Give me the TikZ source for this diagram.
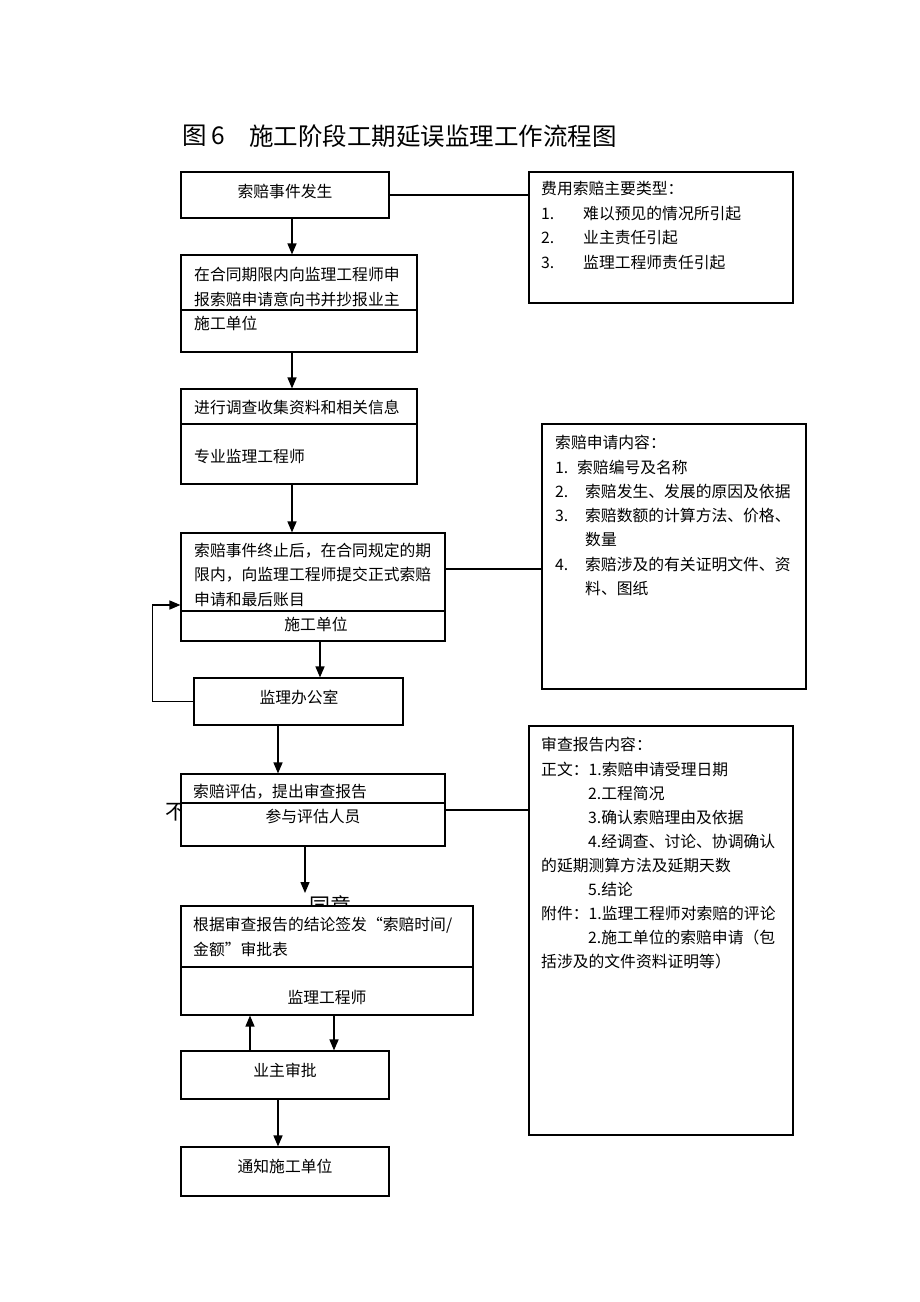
\documentclass[tikz,border=0pt]{standalone}
\usepackage{fontspec}
\setmainfont{Noto Sans CJK SC}
\usetikzlibrary{arrows.meta,calc}
\tikzset{
  box/.style={draw=black, line width=1.1pt, fill=white, rectangle, inner sep=0pt},
  txt/.style={inner sep=0pt, anchor=west, font=\fontsize{15.8}{18}\selectfont},
  ctxt/.style={inner sep=0pt, anchor=center, font=\fontsize{15.8}{18}\selectfont},
  arr/.style={line width=1.4pt, -{Triangle[length=11pt,width=9pt]}},
  link/.style={line width=1.1pt},
  divider/.style={line width=1.1pt},
  cut/.style={inner sep=0pt, anchor=center, font=\fontsize{21}{24}\selectfont},
  ttl/.style={inner sep=0pt, anchor=west, font=\fontsize{24.5}{28}\selectfont}
}
\newcommand{\numitem}[2]{\makebox[#1][l]{#2}}
\begin{document}
\begin{tikzpicture}[x=1pt,y=-1pt]
\useasboundingbox[fill=white] (0,0) rectangle (920,1302);

% title
\node[ttl] (t1) at (182,136) {图};
\node[ttl] (t1b) at (211,136) {6};
\node[ttl] (t2) at (249,136) {施工阶段工期延误监理工作流程图};

% partly hidden labels (drawn below the boxes)
\node[cut] (bu) at (176,812) {不};
\node[cut] (ty) at (330,905) {同意};

% left column boxes
\node[box, minimum width=208pt, minimum height=46pt] (b1) at (285,195) {};
\node[box, minimum width=236pt, minimum height=97pt] (b2) at (299,303.5) {};
\node[box, minimum width=236pt, minimum height=95pt] (b3) at (299,436.5) {};
\node[box, minimum width=264pt, minimum height=108pt] (b4) at (313,587) {};
\node[box, minimum width=209pt, minimum height=47pt] (b5) at (298.5,701.5) {};
\node[box, minimum width=264pt, minimum height=72pt] (b6) at (313,810) {};
\node[box, minimum width=292pt, minimum height=109pt] (b7) at (327,960.5) {};
\node[box, minimum width=208pt, minimum height=48pt] (b8) at (285,1075) {};
\node[box, minimum width=208pt, minimum height=49pt] (b9) at (285,1171.5) {};

% right column boxes
\node[box, minimum width=264pt, minimum height=131pt] (r1) at (661,237.5) {};
\node[box, minimum width=264pt, minimum height=265pt] (r2) at (674,556.5) {};
\node[box, minimum width=264pt, minimum height=409pt] (r3) at (661,930.5) {};

% dividers
\draw[divider] (181,310) -- (417,310);
\draw[divider] (181,424) -- (417,424);
\draw[divider] (181,611) -- (445,611);
\draw[divider] (181,803) -- (445,803);
\draw[divider] (181,967) -- (473,967);

% texts in left boxes
\node[ctxt] (b1t) at (285,191) {索赔事件发生};
\node[txt] (b2a) at (194,274) {在合同期限内向监理工程师申};
\node[txt] (b2b) at (194,299) {报索赔申请意向书并抄报业主};
\node[txt] (b2c) at (194,323) {施工单位};
\node[txt] (b3a) at (194,407) {进行调查收集资料和相关信息};
\node[txt] (b3b) at (194,456) {专业监理工程师};
\node[txt] (b4a) at (194,551) {索赔事件终止后，在合同规定的期};
\node[txt] (b4b) at (194,575) {限内，向监理工程师提交正式索赔};
\node[txt] (b4c) at (194,600) {申请和最后账目};
\node[ctxt] (b4d) at (316,624) {施工单位};
\node[ctxt] (b5t) at (299,697) {监理办公室};
\node[txt] (b6a) at (193,792) {索赔评估，提出审查报告};
\node[ctxt] (b6b) at (313,816) {参与评估人员};
\node[txt] (b7a) at (193,925) {根据审查报告的结论签发“索赔时间/};
\node[txt] (b7b) at (193,949) {金额”审批表};
\node[ctxt] (b7c) at (327,997) {监理工程师};
\node[ctxt] (b8t) at (285,1070) {业主审批};
\node[ctxt] (b9t) at (285,1166) {通知施工单位};

% texts in right boxes
\node[txt] (r1a) at (541,189) {费用索赔主要类型：};
\node[txt] (r1b) at (541,214) {\numitem{42pt}{1.}难以预见的情况所引起};
\node[txt] (r1c) at (541,238) {\numitem{42pt}{2.}业主责任引起};
\node[txt] (r1d) at (541,263) {\numitem{42pt}{3.}监理工程师责任引起};

\node[txt] (r2a) at (555,442) {索赔申请内容：};
\node[txt] (r2b) at (555,467) {\numitem{22pt}{1.}索赔编号及名称};
\node[txt] (r2c) at (555,491) {\numitem{30pt}{2.}索赔发生、发展的原因及依据};
\node[txt] (r2d) at (555,516) {\numitem{30pt}{3.}索赔数额的计算方法、价格、};
\node[txt] (r2e) at (585,540) {数量};
\node[txt] (r2f) at (555,564) {\numitem{30pt}{4.}索赔涉及的有关证明文件、资};
\node[txt] (r2g) at (585,588) {料、图纸};

\node[txt] (r3a) at (541,745) {审查报告内容：};
\node[txt] (r3b) at (541,769) {正文：1.索赔申请受理日期};
\node[txt] (r3c) at (588,793) {2.工程简况};
\node[txt] (r3d) at (588,817) {3.确认索赔理由及依据};
\node[txt] (r3e) at (588,841) {4.经调查、讨论、协调确认};
\node[txt] (r3f) at (541,865) {的延期测算方法及延期天数};
\node[txt] (r3g) at (588,889) {5.结论};
\node[txt] (r3h) at (541,913) {附件：1.监理工程师对索赔的评论};
\node[txt] (r3i) at (588,937) {2.施工单位的索赔申请（包};
\node[txt] (r3j) at (541,961) {括涉及的文件资料证明等）};

% connectors
\draw[arr] ($(b1.south)+(7,0)$) -- ($(b2.north)+(-7,0)$);
\draw[arr] ($(b2.south)+(-7,0)$) -- ($(b3.north)+(-7,0)$);
\draw[arr] ($(b3.south)+(-7,0)$) -- ($(b4.north)+(-21,0)$);
\draw[arr] ($(b4.south)+(7,0)$) -- ($(b5.north)+(21.5,0)$);
\draw[arr] (b5.west) -- ++(-41,0) |- ($(b4.west)+(0,18)$);
\draw[arr] ($(b5.south)+(-20.5,0)$) -- ($(b6.north)+(-35,0)$);
\coordinate (agree) at (305,893);
\draw[arr] ($(b6.south)+(-8,0)$) -- (agree);
\draw[arr] ($(b8.north)+(-35,0)$) -- ($(b7.south)+(-77,0)$);
\draw[arr] ($(b7.south)+(7,0)$) -- ($(b8.north)+(49,0)$);
\draw[arr] ($(b8.south)+(-7,0)$) -- ($(b9.north)+(-7,0)$);

\draw[link] (b1.east) -- (b1.east -| r1.west);
\draw[link] ($(b4.east)+(0,-18)$) coordinate (b4r) -- (b4r -| r2.west);
\draw[link] (b6.east) -- (b6.east -| r3.west);
\end{tikzpicture}
\end{document}
